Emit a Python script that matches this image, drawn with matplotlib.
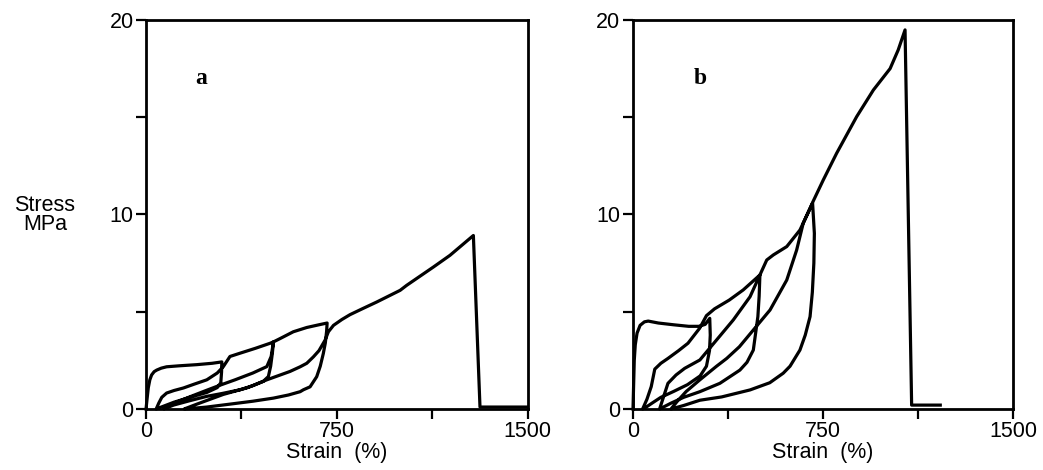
import numpy as np
import matplotlib.pyplot as plt
from matplotlib.ticker import FixedLocator, FixedFormatter

# panel a - cyclic loading, strain (%) and stress (MPa) along the recorded path
strain_a = [0, 4, 9, 15, 22, 32, 42, 60, 81, 130, 200, 260, 298,          # load 1
            297, 294, 280, 239, 173, 110, 60, 40,                         # unload 1
            50, 62, 81, 110, 147, 190, 239, 280, 304, 330, 370, 430, 488, 501,   # reload 2
            497, 490, 481, 461, 420, 370, 300, 239, 170, 108, 70,         # unload 2
            95, 120, 173, 230, 284, 350, 420, 475, 492, 501, 527, 579, 632, 680, 712,  # reload 3
            710, 705, 697, 685, 671, 658, 645, 619, 606, 560, 501, 420, 330, 239, 180, 150,  # unload 3
            200, 304, 400, 475, 566, 606, 632, 658, 680, 704, 717, 737, 770, 802, 850,
            907, 999, 1025, 1130, 1195, 1287,                             # reload 4
            1313, 1500]                                                    # break
stress_a = [0, 0.5, 1.1, 1.5, 1.75, 1.92, 2.0, 2.1, 2.17, 2.22, 2.28, 2.35, 2.42,
            1.9, 1.35, 1.1, 0.85, 0.6, 0.35, 0.1, 0,
            0.3, 0.6, 0.82, 0.95, 1.08, 1.28, 1.5, 1.85, 2.18, 2.7, 2.87, 3.12, 3.38, 3.45,
            2.9, 2.2, 1.67, 1.42, 1.2, 0.99, 0.8, 0.65, 0.42, 0.2, 0,
            0.2, 0.35, 0.63, 0.92, 1.19, 1.5, 1.85, 2.18, 2.7, 3.45, 3.62, 3.97, 4.19, 4.33, 4.42,
            4.0, 3.4, 2.85, 2.2, 1.66, 1.4, 1.14, 0.99, 0.89, 0.72, 0.56, 0.4, 0.25, 0.1, 0.03, 0,
            0.25, 0.75, 1.1, 1.5, 1.93, 2.17, 2.35, 2.68, 3.0, 3.54, 3.97, 4.3, 4.6, 4.85, 5.15,
            5.5, 6.1, 6.36, 7.3, 7.9, 8.92,
            0.1, 0.1]

# panel b
strain_b = [0, 2, 5, 9, 16, 28, 45, 60, 100, 160, 220, 260, 285, 303,     # load 1
            305, 302, 290, 265, 215, 160, 110, 75, 50, 38,                 # unload 1
            55, 72, 86, 110, 138, 180, 217, 263, 290, 322, 380, 435, 501,  # reload 2
            498, 493, 475, 450, 422, 343, 264, 200, 150, 105,              # unload 2
            120, 138, 170, 204, 264, 330, 396, 462, 501, 528, 554, 607, 659, 709,  # reload 3
            716, 714, 708, 699, 680, 659, 620, 593, 540, 462, 350, 264, 200, 150,  # unload 3
            175, 210, 264, 330, 370, 420, 475, 541, 607, 646, 672, 712, 751, 804,
            883, 949, 1015, 1047, 1074,                                    # reload 4
            1100, 1213]                                                    # break
stress_b = [0, 1.0, 2.5, 3.3, 3.9, 4.3, 4.48, 4.52, 4.42, 4.33, 4.25, 4.25, 4.35, 4.66,
            3.8, 3.0, 2.2, 1.7, 1.25, 0.9, 0.6, 0.3, 0.08, 0,
            0.5, 1.15, 2.05, 2.35, 2.6, 3.0, 3.38, 4.15, 4.8, 5.15, 5.6, 6.12, 6.89,
            5.8, 4.75, 3.03, 2.4, 2.0, 1.32, 0.89, 0.6, 0.3, 0,
            0.6, 1.32, 1.75, 2.09, 2.52, 3.55, 4.58, 5.77, 6.89, 7.66, 7.92, 8.35, 9.2, 10.58,
            9.03, 7.5, 6.0, 4.75, 3.8, 3.03, 2.2, 1.84, 1.35, 0.98, 0.62, 0.45, 0.18, 0,
            0.4, 0.9, 1.5, 2.2, 2.6, 3.2, 4.06, 5.09, 6.63, 8.17, 9.55, 10.7, 11.77, 13.15,
            15.03, 16.4, 17.5, 18.46, 19.49,
            0.2, 0.2]

xticks = [0, 375, 750, 1125, 1500]
xtick_labels = ['0', '', '750', '', '1500']
yticks = [0, 5, 10, 15, 20]
ytick_labels = ['0', '', '10', '', '20']

plt.rcParams['font.family'] = ['Liberation Sans', 'DejaVu Sans']

fig = plt.figure(figsize=(10.43, 4.70), dpi=100)
ax_a = fig.add_axes([0.140, 0.1298, 0.3658, 0.8277])
ax_b = fig.add_axes([0.6069, 0.1298, 0.3643, 0.8277])

panels = [(ax_a, strain_a, stress_a, 'a', 218), (ax_b, strain_b, stress_b, 'b', 265)]
for ax, sx, sy, tag, tag_x in panels:
    ax.plot(sx, sy, color='black', lw=2.3, solid_joinstyle='round', clip_on=False)
    ax.set_xlim(0, 1500)
    ax.set_ylim(0, 20)
    ax.xaxis.set_major_locator(FixedLocator(xticks))
    ax.xaxis.set_major_formatter(FixedFormatter(xtick_labels))
    ax.yaxis.set_major_locator(FixedLocator(yticks))
    ax.yaxis.set_major_formatter(FixedFormatter(ytick_labels))
    ax.tick_params(direction='out', length=7, width=1.6, labelsize=15.5, pad=2)
    for s in ax.spines.values():
        s.set_linewidth(2.0)
    ax.set_xlabel('Strain  (%)', fontsize=15.5, labelpad=0)
    ax.text(tag_x, 17.0, tag, fontsize=17, fontweight='bold', ha='center', va='center',
            family='Liberation Serif')

fig.text(0.043, 0.543, 'Stress\nMPa', fontsize=15.5, ha='center', va='center', linespacing=0.85)

fig.savefig('out.png', dpi=100)
